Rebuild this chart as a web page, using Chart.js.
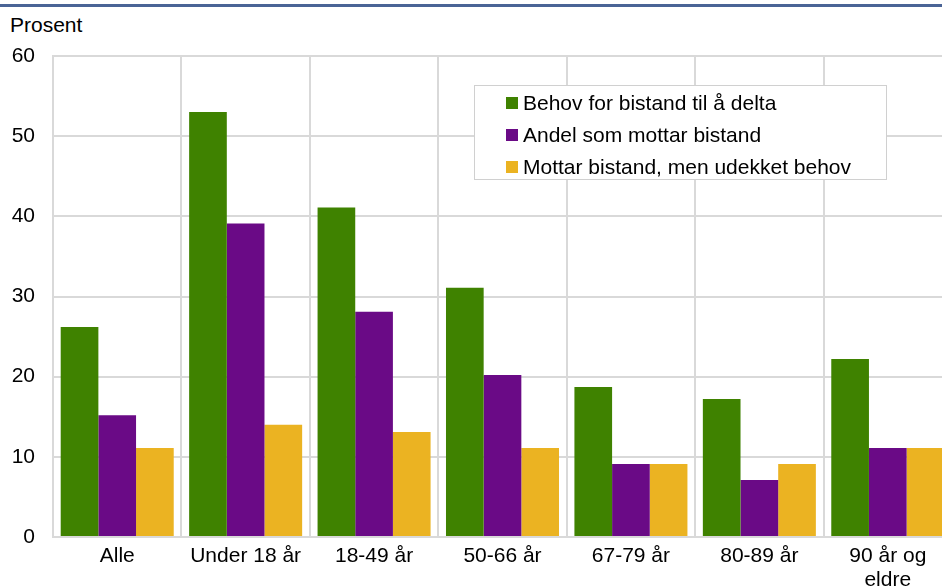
<!DOCTYPE html>
<html>
<head>
<meta charset="utf-8">
<script src="https://cdn.jsdelivr.net/npm/chart.js@4/dist/chart.umd.min.js"></script>
<style>
  html, body { margin: 0; padding: 0; background: #fff; overflow: hidden; width: 942px; height: 588px; }
  #wrap { position: relative; width: 942px; height: 588px; overflow: hidden; font-family: "Liberation Sans", Arial, sans-serif; }
  #topline { position: absolute; left: 0; top: 4px; width: 942px; height: 3px; background: #4a6496; }
  #ytitle { position: absolute; left: 10px; top: 15px; font-size: 21px; line-height: 20px; color: #000; }
  #cv { position: absolute; left: 0; top: 0; }
  #legend { position: absolute; left: 474px; top: 85px; width: 413px; height: 95px; border: 1px solid #d0d0d0; background: #fff; box-sizing: border-box; padding-top: 1px; }
  .li { position: relative; height: 32px; line-height: 32px; font-size: 21px; color: #000; padding-left: 48px; white-space: nowrap; }
  .li span.sw { position: absolute; left: 31px; top: 10px; width: 12px; height: 12px; }
</style>
</head>
<body>
<div id="wrap">
  <div id="topline"></div>
  <div id="ytitle">Prosent</div>
  <canvas id="cv" width="956" height="588"></canvas>
  <div id="legend"></div>
</div>
<script>
const categories = ["Alle", "Under 18 år", "18-49 år", "50-66 år", "67-79 år", "80-89 år", ["90 år og", "eldre"]];
const seriesNames = ["Behov for bistand til å delta", "Andel som mottar bistand", "Mottar bistand, men udekket behov"];
const behov = [26.2, 53, 41.1, 31.1, 18.7, 17.2, 22.2];
const andel = [15.2, 39.1, 28.1, 20.2, 9.1, 7.1, 11.1];
const udekket = [11.1, 14, 13.1, 11.1, 9.1, 9.1, 11.1];
const colors = ["#3f8200", "#6a0a86", "#ebb322"];
const yTicks = [0, 10, 20, 30, 40, 50, 60];

Chart.defaults.font.family = '"Liberation Sans", Arial, sans-serif';
Chart.defaults.font.size = 21;
Chart.defaults.color = '#000';

const chart = new Chart(document.getElementById('cv'), {
  type: 'bar',
  data: {
    labels: categories,
    datasets: [behov, andel, udekket].map((d, i) => ({
      label: seriesNames[i],
      data: d,
      backgroundColor: colors[i],
      borderWidth: 0,
      categoryPercentage: 0.88,
      barPercentage: 1.0
    }))
  },
  options: {
    responsive: false,
    animation: false,
    devicePixelRatio: 1,
    layout: { padding: { left: 0, right: 4, top: 56, bottom: 0 } },
    plugins: { legend: { display: false }, tooltip: { enabled: false } },
    scales: {
      x: {
        grid: { color: '#d9d9d9', lineWidth: 2, drawTicks: false, offset: true },
        border: { color: '#d9d9d9', width: 2 },
        ticks: { padding: 8, maxRotation: 0, autoSkip: false, font: { size: 21, lineHeight: 1.11 } },
        afterFit: s => { s.height = 51; }
      },
      y: {
        min: 0, max: 60,
        afterBuildTicks: s => { s.ticks = yTicks.map(v => ({ value: v })); },
        grid: { color: '#d9d9d9', lineWidth: 2, drawTicks: false },
        border: { color: '#d9d9d9', width: 2 },
        ticks: { padding: 18, font: { size: 21 } },
        afterFit: s => { s.width = 53; }
      }
    }
  }
});

const leg = document.getElementById('legend');
chart.data.datasets.forEach(ds => {
  const row = document.createElement('div');
  row.className = 'li';
  const sw = document.createElement('span');
  sw.className = 'sw';
  sw.style.background = ds.backgroundColor;
  row.appendChild(sw);
  row.appendChild(document.createTextNode(ds.label));
  leg.appendChild(row);
});
</script>
</body>
</html>
